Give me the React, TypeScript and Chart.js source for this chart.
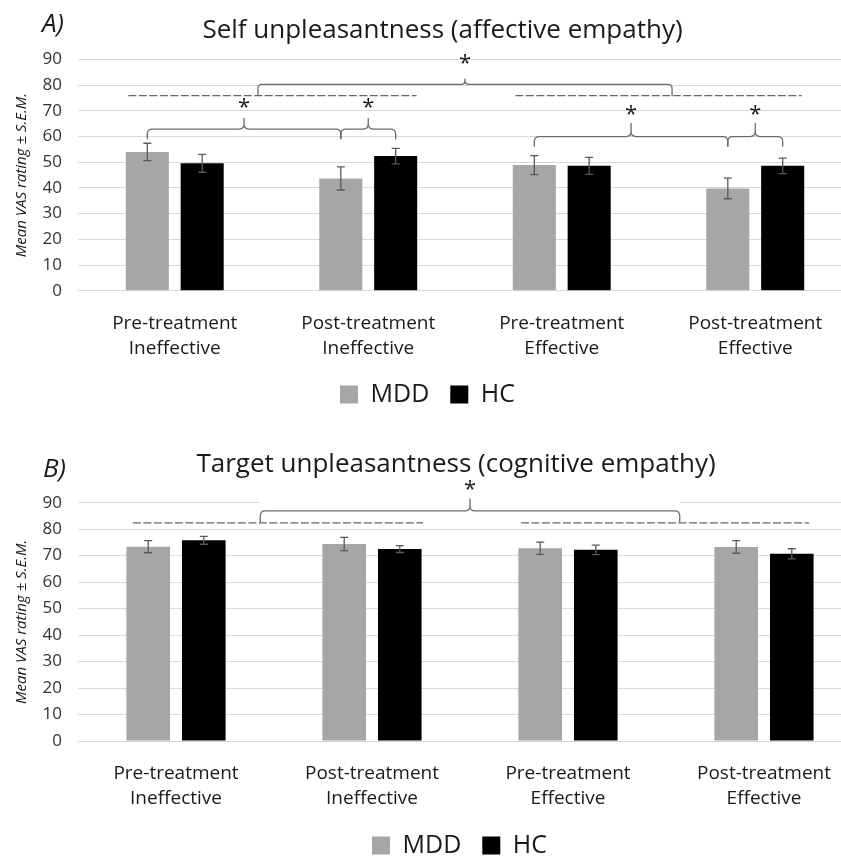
import React, { useEffect, useRef } from "react";
import { Chart, registerables } from "chart.js";

Chart.register(...registerables);

// ---------- data ----------
const categories: string[][] = [
  ["Pre-treatment", "Ineffective"],
  ["Post-treatment", "Ineffective"],
  ["Pre-treatment", "Effective"],
  ["Post-treatment", "Effective"],
];
const seriesNames = ["MDD", "HC"];
const yMin = 0;
const yMax = 90;
const yStep = 10;

const selfMDD = [54.0, 43.7, 48.9, 39.8];
const selfMDDErr = [3.4, 4.5, 3.7, 4.0];
const selfHC = [49.6, 52.4, 48.6, 48.6];
const selfHCErr = [3.5, 3.0, 3.3, 3.0];

const targetMDD = [73.4, 74.4, 72.8, 73.3];
const targetMDDErr = [2.3, 2.5, 2.3, 2.4];
const targetHC = [75.8, 72.5, 72.2, 70.7];
const targetHCErr = [1.5, 1.3, 1.8, 1.9];

// significance annotations: [fromCategory, toCategory, level]
const selfGroupLines = [
  [-0.24, 1.25, 75.9],
  [1.76, 3.24, 75.9],
];
// brace: from/to are a fractional category or [category, series]
const selfBraces = [
  { from: 0.43, to: 2.57, level: 80.3, leg: 75.9, tip: 82.6, star: 89.0 },
  { from: [0, 0], to: [1, 0], level: 62.9, leg: 59.0, tip: 67.2, star: 71.6 },
  { from: [1, 0], to: [1, 1], level: 62.9, leg: 59.0, tip: 67.2, star: 71.6 },
  { from: [2, 0], to: [3, 0], level: 60.0, leg: 56.0, tip: 65.3, star: 69.2 },
  { from: [3, 0], to: [3, 1], level: 60.0, leg: 56.0, tip: 65.3, star: 69.2 },
];
const targetGroupLines = [
  [-0.22, 1.26, 82.4],
  [1.76, 3.23, 82.4],
];
const targetBraces = [
  { from: 0.43, to: 2.57, level: 86.9, leg: 82.4, tip: 91.6, star: 95.4, mask: true },
];

const FONT = "'Open Sans', 'DejaVu Sans', sans-serif";
const MDD_COLOR = "#a6a6a6";
const HC_COLOR = "#000000";

function refX(chart: any, ref: any): number {
  if (Array.isArray(ref)) {
    return chart.getDatasetMeta(ref[1]).data[ref[0]].x;
  }
  const xs = chart.scales.x;
  const p0 = xs.getPixelForValue(0);
  const p1 = xs.getPixelForValue(1);
  return p0 + ref * (p1 - p0);
}

function drawBrace(ctx: CanvasRenderingContext2D, x1: number, x2: number, yPx: number, legPx: number, tipPx: number) {
  const r = Math.max(1, Math.min(5, Math.abs(legPx - yPx) / 1.5, Math.abs(yPx - tipPx) / 1.5, (x2 - x1) / 5));
  const xm = (x1 + x2) / 2;
  ctx.beginPath();
  ctx.moveTo(x1, legPx);
  ctx.lineTo(x1, yPx + r);
  ctx.quadraticCurveTo(x1, yPx, x1 + r, yPx);
  ctx.lineTo(xm - r, yPx);
  ctx.quadraticCurveTo(xm, yPx, xm, yPx - r);
  ctx.lineTo(xm, tipPx);
  ctx.moveTo(xm, tipPx);
  ctx.lineTo(xm, yPx - r);
  ctx.quadraticCurveTo(xm, yPx, xm + r, yPx);
  ctx.lineTo(x2 - r, yPx);
  ctx.quadraticCurveTo(x2, yPx, x2, yPx + r);
  ctx.lineTo(x2, legPx);
  ctx.stroke();
}

function makeAnnotPlugin(cfg: any) {
  return {
    id: "sigAnnot",
    afterLayout(chart: any) {
      const t = chart.titleBlock;
      if (t && cfg.titleCenter != null) {
        const dx = cfg.titleCenter - (t.left + t.right) / 2;
        t.left += dx;
        t.right += dx;
      }
      const l = chart.legend;
      if (l && cfg.legendCenter != null) {
        const dx = cfg.legendCenter - (l.left + l.right) / 2;
        l.left += dx;
        l.right += dx;
      }
    },
    beforeDatasetsDraw(chart: any) {
      const ctx = chart.ctx;
      const ys = chart.scales.y;
      cfg.braces.forEach((b: any) => {
        if (!b.mask) return;
        const x1 = refX(chart, b.from);
        const x2 = refX(chart, b.to);
        const top = ys.getPixelForValue(ys.max);
        ctx.save();
        ctx.fillStyle = "#ffffff";
        ctx.fillRect(x1, top - 3, x2 - x1, 6);
        ctx.restore();
      });
    },
    afterDatasetsDraw(chart: any) {
      const ctx = chart.ctx;
      const ys = chart.scales.y;
      // error bars
      ctx.save();
      ctx.strokeStyle = "#595959";
      ctx.lineWidth = 1.3;
      cfg.errors.forEach((errs: number[], ds: number) => {
        const meta = chart.getDatasetMeta(ds);
        const vals = chart.data.datasets[ds].data as number[];
        meta.data.forEach((bar: any, i: number) => {
          const yTop = ys.getPixelForValue(vals[i] + errs[i]);
          const yBot = ys.getPixelForValue(vals[i] - errs[i]);
          const x = bar.x;
          ctx.beginPath();
          ctx.moveTo(x, yTop);
          ctx.lineTo(x, yBot);
          ctx.moveTo(x - 4, yTop);
          ctx.lineTo(x + 4, yTop);
          ctx.moveTo(x - 4, yBot);
          ctx.lineTo(x + 4, yBot);
          ctx.stroke();
        });
      });
      ctx.restore();

      // dashed group lines
      ctx.save();
      ctx.strokeStyle = "#666666";
      ctx.lineWidth = 1.2;
      ctx.setLineDash([8, 2.5]);
      cfg.lines.forEach((ln: number[]) => {
        const x1 = refX(chart, ln[0]);
        const x2 = refX(chart, ln[1]);
        const y = ys.getPixelForValue(ln[2]);
        ctx.beginPath();
        ctx.moveTo(x1, y);
        ctx.lineTo(x2, y);
        ctx.stroke();
      });
      ctx.restore();

      // braces and stars
      ctx.save();
      ctx.strokeStyle = "#6b6b6b";
      ctx.lineWidth = 1.3;
      cfg.braces.forEach((b: any) => {
        const x1 = refX(chart, b.from);
        const x2 = refX(chart, b.to);
        drawBrace(ctx, x1, x2, ys.getPixelForValue(b.level), ys.getPixelForValue(b.leg), ys.getPixelForValue(b.tip));
        const size = 22;
        ctx.font = `${size}px ${FONT}`;
        ctx.fillStyle = "#1a1a1a";
        ctx.textAlign = "center";
        ctx.textBaseline = "alphabetic";
        ctx.fillText("*", (x1 + x2) / 2, ys.getPixelForValue(b.star) + size * 0.35);
      });
      ctx.restore();
    },
    afterDraw(chart: any) {
      const ctx = chart.ctx;
      ctx.save();
      ctx.font = `italic 26px ${FONT}`;
      ctx.fillStyle = "#1a1a1a";
      ctx.textAlign = "left";
      ctx.textBaseline = "middle";
      ctx.fillText(cfg.panel, cfg.panelX, cfg.panelY);
      ctx.restore();
    },
  };
}

function Panel(props: {
  top: number;
  width: number;
  height: number;
  title: string;
  mdd: number[];
  hc: number[];
  mddErr: number[];
  hcErr: number[];
  lines: number[][];
  braces: any[];
  panel: string;
  panelX: number;
  panelY: number;
  titleCenter: number;
  legendCenter: number;
  titlePadTop: number;
  titlePadBottom: number;
  xAxisHeight: number;
}) {
  const ref = useRef<HTMLCanvasElement | null>(null);
  useEffect(() => {
    if (!ref.current) return;
    const plugin = makeAnnotPlugin({
      errors: [props.mddErr, props.hcErr],
      lines: props.lines,
      braces: props.braces,
      panel: props.panel,
      panelX: props.panelX,
      panelY: props.panelY,
      titleCenter: props.titleCenter,
      legendCenter: props.legendCenter,
    });
    const chart = new Chart(ref.current, {
      type: "bar",
      data: {
        labels: categories,
        datasets: [
          {
            label: seriesNames[0],
            data: props.mdd,
            backgroundColor: MDD_COLOR,
            borderWidth: 0,
            categoryPercentage: 0.567,
            barPercentage: 0.785,
          },
          {
            label: seriesNames[1],
            data: props.hc,
            backgroundColor: HC_COLOR,
            borderWidth: 0,
            categoryPercentage: 0.567,
            barPercentage: 0.785,
          },
        ],
      },
      options: {
        responsive: false,
        maintainAspectRatio: false,
        devicePixelRatio: 1,
        animation: false,
        events: [],
        layout: { padding: { left: 0, right: 0, top: 0, bottom: 0 } },
        plugins: {
          tooltip: { enabled: false },
          title: {
            display: true,
            text: props.title,
            color: "#1a1a1a",
            font: { family: FONT, size: 26, weight: "normal" as any, lineHeight: 1.2 },
            padding: { top: props.titlePadTop, bottom: props.titlePadBottom },
          },
          legend: {
            display: true,
            position: "bottom",
            labels: {
              color: "#1a1a1a",
              font: { family: FONT, size: 25 },
              boxWidth: 18,
              boxHeight: 18,
              padding: 21,
            },
          },
        },
        scales: {
          x: {
            offset: true,
            grid: { display: false },
            border: { display: false },
            ticks: {
              color: "#1a1a1a",
              font: { family: FONT, size: 19, lineHeight: 1.316 },
              padding: 12,
              maxRotation: 0,
              autoSkip: false,
            },
            afterFit: (s: any) => {
              s.height = props.xAxisHeight;
            },
          },
          y: {
            min: yMin,
            max: yMax,
            ticks: {
              stepSize: yStep,
              color: "#333333",
              font: { family: FONT, size: 17 },
              padding: 16,
            },
            grid: { color: "#d9d9d9", lineWidth: 1, drawTicks: false },
            border: { display: false },
            title: {
              display: true,
              text: "Mean VAS rating ± S.E.M.",
              color: "#1a1a1a",
              font: { family: FONT, size: 15, style: "italic", lineHeight: 1.2 },
              padding: { top: 13, bottom: 0 },
            },
            afterFit: (s: any) => {
              s.width = 78;
            },
          },
        },
      },
      plugins: [plugin],
    });
    return () => chart.destroy();
  }, []);
  return (
    <canvas
      ref={ref}
      width={props.width}
      height={props.height}
      style={{ position: "absolute", left: 0, top: props.top, width: props.width, height: props.height }}
    />
  );
}

export default function App() {
  return (
    <div
      style={{
        position: "fixed",
        left: 0,
        top: 0,
        width: 841,
        height: 857,
        overflow: "hidden",
        background: "#ffffff",
      }}
    >
      <Panel
        top={0}
        width={852}
        height={417}
        title="Self unpleasantness (affective empathy)"
        mdd={selfMDD}
        hc={selfHC}
        mddErr={selfMDDErr}
        hcErr={selfHCErr}
        lines={selfGroupLines}
        braces={selfBraces}
        panel="A)"
        panelX={42}
        panelY={25}
        titleCenter={442.5}
        legendCenter={427.5}
        titlePadTop={14.5}
        titlePadBottom={13.8}
        xAxisHeight={70.3}
      />
      <Panel
        top={435}
        width={862}
        height={433}
        title="Target unpleasantness (cognitive empathy)"
        mdd={targetMDD}
        hc={targetHC}
        mddErr={targetMDDErr}
        hcErr={targetHCErr}
        lines={targetGroupLines}
        braces={targetBraces}
        panel="B)"
        panelX={43}
        panelY={35}
        titleCenter={456}
        legendCenter={459.5}
        titlePadTop={14}
        titlePadBottom={22.5}
        xAxisHeight={71}
      />
    </div>
  );
}
